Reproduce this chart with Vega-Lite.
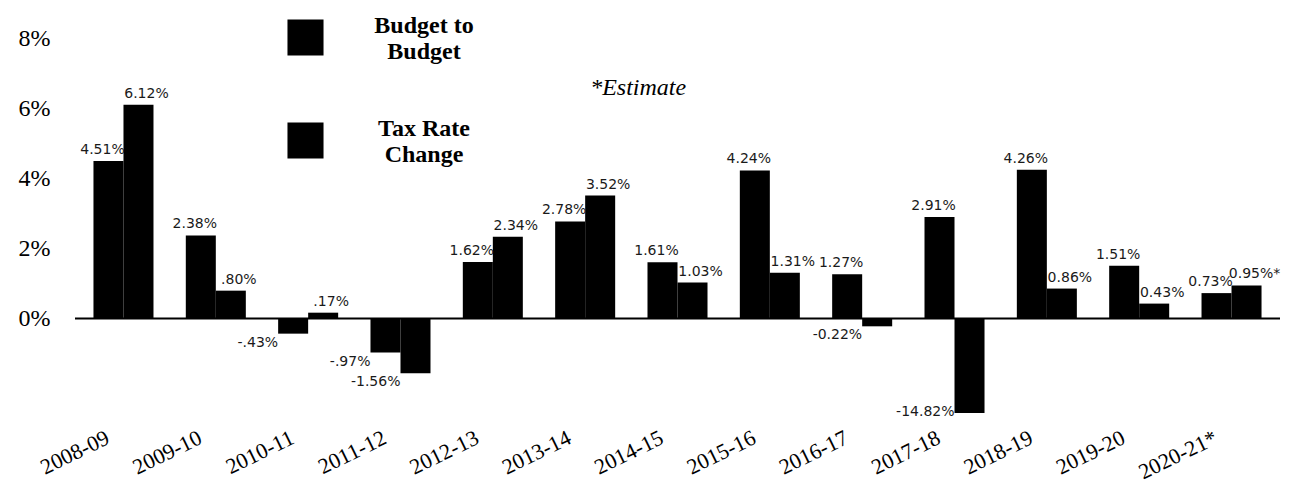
{
  "$schema": "https://vega.github.io/schema/vega-lite/v6.json",
  "width": 1205,
  "height": 381,
  "autosize": {"type": "none"},
  "padding": {"left": 75, "top": 32, "right": 19, "bottom": 70},
  "background": "white",
  "config": {
    "view": {"stroke": null},
    "axisY": {"title": null},
    "axisX": {
      "title": null,
      "domain": false,
      "ticks": false,
      "labelAngle": -26,
      "labelAlign": "right",
      "labelBaseline": "top",
      "labelFont": "Liberation Serif",
      "labelFontSize": 22,
      "labelColor": "black",
      "labelPadding": 14,
      "labelOffset": -20,
      "labelOverlap": false
    }
  },
  "data": {
    "values": [
      {"year": "2008-09", "series": "Budget to Budget", "value": 4.51, "label": "4.51%"},
      {"year": "2008-09", "series": "Tax Rate Change", "value": 6.12, "label": "6.12%"},
      {"year": "2009-10", "series": "Budget to Budget", "value": 2.38, "label": "2.38%"},
      {"year": "2009-10", "series": "Tax Rate Change", "value": 0.80, "label": ".80%"},
      {"year": "2010-11", "series": "Budget to Budget", "value": -0.43, "label": "-.43%"},
      {"year": "2010-11", "series": "Tax Rate Change", "value": 0.17, "label": ".17%"},
      {"year": "2011-12", "series": "Budget to Budget", "value": -0.97, "label": "-.97%"},
      {"year": "2011-12", "series": "Tax Rate Change", "value": -1.56, "label": "-1.56%"},
      {"year": "2012-13", "series": "Budget to Budget", "value": 1.62, "label": "1.62%"},
      {"year": "2012-13", "series": "Tax Rate Change", "value": 2.34, "label": "2.34%"},
      {"year": "2013-14", "series": "Budget to Budget", "value": 2.78, "label": "2.78%"},
      {"year": "2013-14", "series": "Tax Rate Change", "value": 3.52, "label": "3.52%"},
      {"year": "2014-15", "series": "Budget to Budget", "value": 1.61, "label": "1.61%"},
      {"year": "2014-15", "series": "Tax Rate Change", "value": 1.03, "label": "1.03%"},
      {"year": "2015-16", "series": "Budget to Budget", "value": 4.24, "label": "4.24%"},
      {"year": "2015-16", "series": "Tax Rate Change", "value": 1.31, "label": "1.31%"},
      {"year": "2016-17", "series": "Budget to Budget", "value": 1.27, "label": "1.27%"},
      {"year": "2016-17", "series": "Tax Rate Change", "value": -0.22, "label": "-0.22%"},
      {"year": "2017-18", "series": "Budget to Budget", "value": 2.91, "label": "2.91%"},
      {"year": "2017-18", "series": "Tax Rate Change", "value": -14.82, "label": "-14.82%"},
      {"year": "2018-19", "series": "Budget to Budget", "value": 4.26, "label": "4.26%"},
      {"year": "2018-19", "series": "Tax Rate Change", "value": 0.86, "label": "0.86%"},
      {"year": "2019-20", "series": "Budget to Budget", "value": 1.51, "label": "1.51%"},
      {"year": "2019-20", "series": "Tax Rate Change", "value": 0.43, "label": "0.43%"},
      {"year": "2020-21*", "series": "Budget to Budget", "value": 0.73, "label": "0.73%"},
      {"year": "2020-21*", "series": "Tax Rate Change", "value": 0.95, "label": "0.95%*"}
    ]
  },
  "layer": [
    {
      "mark": {"type": "bar", "clip": true},
      "encoding": {
        "x": {"field": "year", "type": "nominal", "sort": null, "scale": {"paddingInner": 0.35, "paddingOuter": 0.2}},
        "xOffset": {"field": "series", "sort": null, "scale": {"paddingInner": 0, "paddingOuter": 0}},
        "y": {
          "field": "value",
          "type": "quantitative",
          "scale": {"domain": [-2.7, 8.2], "nice": false},
          "axis": {
            "title": null,
            "domain": false,
            "ticks": false,
            "grid": false,
            "values": [0, 2, 4, 6, 8],
            "labelExpr": "datum.value + '%'",
            "labelFont": "Liberation Serif",
            "labelFontSize": 24,
            "labelColor": "black",
            "labelPadding": 25
          }
        },
        "color": {
          "field": "series",
          "type": "nominal",
          "scale": {"domain": ["Budget to Budget", "Tax Rate Change"], "range": ["#000000", "#000000"]},
          "legend": {
            "orient": "none",
            "legendX": 212,
            "legendY": -13,
            "title": null,
            "direction": "vertical",
            "symbolType": "square",
            "symbolSize": 1300,
            "symbolStrokeWidth": 0,
            "labelFont": "Liberation Serif",
            "labelFontSize": 24,
            "labelFontWeight": "bold",
            "labelColor": "black",
            "labelExpr": "datum.label == 'Budget to Budget' ? ['Budget to', 'Budget'] : ['Tax Rate', 'Change']",
            "labelAlign": "center",
            "labelBaseline": "bottom",
            "labelOffset": 100,
            "labelLimit": 0,
            "rowPadding": 52
          }
        }
      }
    },
    {
      "transform": [{"filter": "datum.value >= 0 && datum.series == 'Budget to Budget'"}],
      "mark": {"type": "text", "font": "DejaVu Sans", "fontSize": 14, "color": "#1a1a1a", "baseline": "bottom", "dy": -4, "dx": -6},
      "encoding": {
        "x": {"field": "year", "type": "nominal", "sort": null},
        "xOffset": {"field": "series", "sort": null},
        "y": {"field": "value", "type": "quantitative"},
        "text": {"field": "label"}
      }
    },
    {
      "transform": [{"filter": "datum.value >= 0 && datum.series == 'Tax Rate Change'"}],
      "mark": {"type": "text", "font": "DejaVu Sans", "fontSize": 14, "color": "#1a1a1a", "baseline": "bottom", "dy": -4, "dx": 8},
      "encoding": {
        "x": {"field": "year", "type": "nominal", "sort": null},
        "xOffset": {"field": "series", "sort": null},
        "y": {"field": "value", "type": "quantitative"},
        "text": {"field": "label"}
      }
    },
    {
      "transform": [{"filter": "datum.value < 0"}, {"calculate": "max(datum.value, -2.4)", "as": "ly"}],
      "mark": {"type": "text", "font": "DejaVu Sans", "fontSize": 14, "color": "#1a1a1a", "baseline": "top", "align": "right", "dy": 2, "dx": -15},
      "encoding": {
        "x": {"field": "year", "type": "nominal", "sort": null},
        "xOffset": {"field": "series", "sort": null},
        "y": {"field": "ly", "type": "quantitative"},
        "text": {"field": "label"}
      }
    },
    {
      "data": {"values": [{"note": "*Estimate"}]},
      "mark": {"type": "text", "font": "Liberation Serif", "fontStyle": "italic", "fontSize": 24, "color": "black", "dx": 53, "align": "center", "baseline": "middle"},
      "encoding": {
        "x": {"datum": "2013-14"},
        "y": {"datum": 6.6},
        "text": {"field": "note"}
      }
    },
    {
      "data": {"values": [{"zero": 0}]},
      "mark": {"type": "rule", "color": "black", "strokeWidth": 2},
      "encoding": {"y": {"field": "zero", "type": "quantitative"}}
    }
  ]
}
